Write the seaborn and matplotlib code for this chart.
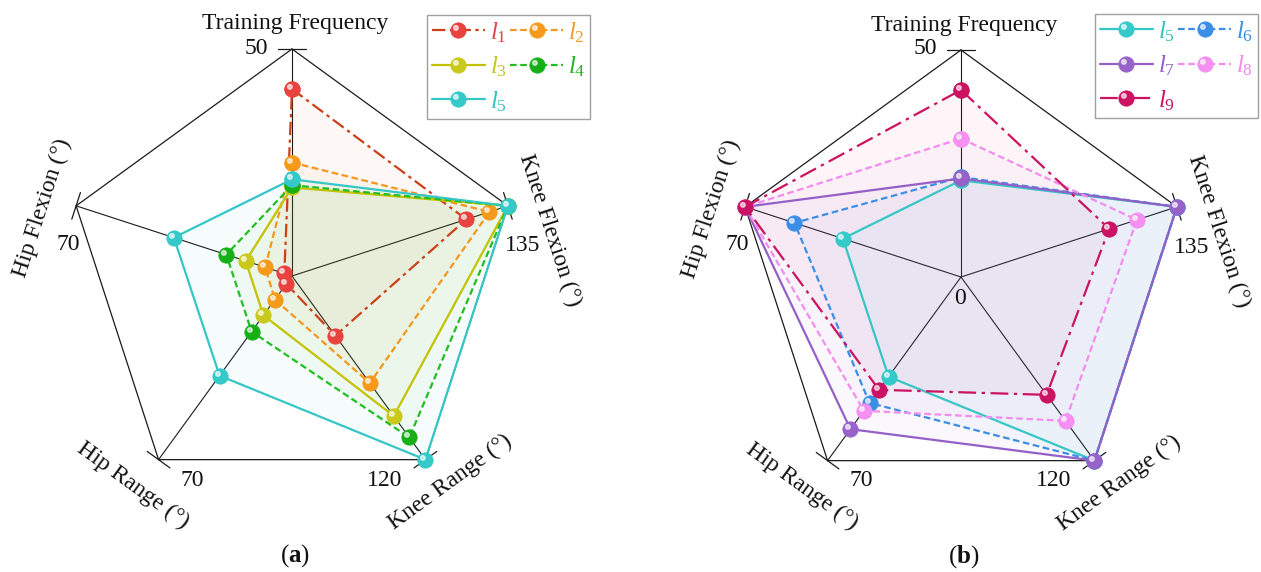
import numpy as np
import matplotlib
matplotlib.use("Agg")
import matplotlib.pyplot as plt
from matplotlib.path import Path
from matplotlib.markers import MarkerStyle
from matplotlib.lines import Line2D
from matplotlib.legend_handler import HandlerTuple
import seaborn as sns

sns.set_theme(style="white")
plt.rcParams["font.family"] = ["Liberation Serif", "DejaVu Serif"]
plt.rcParams["mathtext.fontset"] = "custom"
plt.rcParams["mathtext.rm"] = "Liberation Serif"
plt.rcParams["mathtext.it"] = "Liberation Serif:italic"
plt.rcParams["mathtext.bf"] = "Liberation Serif:bold"

# Radar axes, clockwise from the top, and the value at each outer vertex
axis_names = ["Training Frequency", "Knee Flexion (°)", "Knee Range (°)",
              "Hip Range (°)", "Hip Flexion (°)"]
axis_max = [50, 135, 120, 70, 70]
max_labels = ["50", "135", "120", "70", "70"]

# Series values in the axis order above
l1 = [41.2, 109, 39, 3, 2.5]
l2 = [25, 123.5, 70, 9, 8.7]
l3 = [19.5, 135, 91.5, 15, 15]
l4 = [20, 135, 105.5, 21.2, 21.3]
l5 = [21.3, 135, 120, 38, 38.3]
l6 = [22, 135, 120, 48, 54]
l7 = [21.7, 135, 120, 58, 70]
l8 = [30.5, 110, 94, 51, 70]
l9 = [41.2, 92.7, 77, 43, 70]

series_names = ["l1", "l2", "l3", "l4", "l5", "l6", "l7", "l8", "l9"]
series_values = [l1, l2, l3, l4, l5, l6, l7, l8, l9]
panel_a = ["l1", "l2", "l3", "l4", "l5"]
panel_b = ["l5", "l6", "l7", "l8", "l9"]

DASHDOT = (0, (6, 2, 1.5, 2))
LONGDASHDOT = (0, (8, 2.5, 1.5, 2.5))
DASHED = (0, (3, 1.6))
styles = {
    "l1": dict(line="#cc4018", face="#e8433f", text="#e04848", ls=DASHDOT),
    "l2": dict(line="#f5961e", face="#f69a1c", text="#f29a2a", ls=DASHED),
    "l3": dict(line="#c2c200", face="#c9c91c", text="#c4c420", ls="-"),
    "l4": dict(line="#1fbf1f", face="#16b016", text="#22b422", ls=DASHED),
    "l5": dict(line="#35c6c6", face="#35c9c9", text="#35c0c0", ls="-"),
    "l6": dict(line="#3a8ee6", face="#3a8ee6", text="#3a8ee6", ls=DASHED),
    "l7": dict(line="#9460c8", face="#9763c9", text="#9460c8", ls="-"),
    "l8": dict(line="#f38cf0", face="#f58ff2", text="#f08cea", ls=DASHED),
    "l9": dict(line="#cc1260", face="#cc1262", text="#cc1262", ls=LONGDASHDOT),
}

W, H = 1261, 572
R = 227.0  # radar radius in pixels
fig = plt.figure(figsize=(W / 100, H / 100), dpi=100)

# Small glossy highlight drawn over each ball marker
_circ = Path.circle(center=(-0.17, 0.17), radius=0.15)
_verts = np.vstack([[[-0.5, -0.5], [0.5, 0.5]], _circ.vertices])
_codes = np.concatenate([[Path.MOVETO, Path.MOVETO], _circ.codes])
shine = MarkerStyle(Path(_verts, _codes))

theta = np.deg2rad(np.arange(5) * 72.0)
ux, uy = np.sin(theta), np.cos(theta)
MS = 11


def make_axes(left_px, right_px, cx, cy):
    ax = fig.add_axes([left_px / W, 0, (right_px - left_px) / W, 1])
    ax.set_xlim(-(cx - left_px) / R, (right_px - cx) / R)
    ax.set_ylim(-(H - cy) / R, cy / R)
    ax.axis("off")
    return ax


def label(cx, cy, dx, dy, s, size=17, rot=0, **kw):
    fig.text((cx + dx) / W, 1 - (cy + dy) / H, s, fontsize=size, rotation=rot,
             ha="center", va="center", rotation_mode="anchor", color="#111111", **kw)


def draw_panel(ax, names, cx, cy, tag, show_zero, legend_box):
    # outer pentagon, spokes and vertex ticks
    ax.plot(np.r_[ux, ux[0]], np.r_[uy, uy[0]], color="#1a1a1a", lw=0.9, zorder=1)
    tick = 14 / R
    for x, y in zip(ux, uy):
        ax.plot([0, x], [0, y], color="#1a1a1a", lw=0.8, zorder=1)
        px, py = y, -x
        ax.plot([x - tick * px, x + tick * px], [y - tick * py, y + tick * py],
                color="#1a1a1a", lw=0.9, zorder=1)

    handles = {}
    for k, name in enumerate(names):
        vals = np.array(series_values[series_names.index(name)], float)
        frac = vals / np.array(axis_max, float)
        xs = np.r_[frac * ux, frac[0] * ux[0]]
        ys = np.r_[frac * uy, frac[0] * uy[0]]
        st = styles[name]
        ax.fill(xs, ys, color=st["line"], alpha=0.04, lw=0, zorder=2)
        sns.lineplot(x=xs, y=ys, sort=False, estimator=None, errorbar=None, ax=ax,
                     color=st["line"], linewidth=1.6, linestyle=st["ls"],
                     marker="o", markersize=MS, markerfacecolor=st["face"],
                     markeredgecolor=st["face"], markeredgewidth=0.6,
                     legend=False, zorder=3 + k)
        ax.plot(xs[:-1], ys[:-1], linestyle="none", marker=shine, markersize=MS,
                color="white", alpha=0.65, zorder=3 + k)
        main = Line2D([], [], color=st["line"], lw=1.6, linestyle=st["ls"], marker="o",
                      markersize=MS, markerfacecolor=st["face"],
                      markeredgecolor=st["face"], markeredgewidth=0.6)
        hl = Line2D([], [], linestyle="none", marker=shine, markersize=MS,
                    color="white", alpha=0.65)
        handles[name] = (main, hl)

    # column-wise order gives rows: (1,2), (3,4), (5)
    order = [names[0], names[2], names[4], names[1], names[3]]
    leg = fig.legend([handles[n] for n in order],
                     [rf"$l_{{{n[1]}}}$" for n in order],
                     handler_map={tuple: HandlerTuple(ndivide=1, pad=0)},
                     ncol=2, loc="upper left",
                     bbox_to_anchor=(legend_box[0] / W, 1 - legend_box[1] / H),
                     bbox_transform=fig.transFigure, borderaxespad=0,
                     fontsize=18, handlelength=2.1, handletextpad=0.2,
                     columnspacing=0.15, labelspacing=0.4, borderpad=0.2,
                     frameon=True, fancybox=False, framealpha=1, edgecolor="#a0a0a0")
    leg.get_frame().set_linewidth(1.0)
    for txt, n in zip(leg.get_texts(), order):
        txt.set_color(styles[n]["text"])

    # axis names and vertex values
    label(cx, cy, 3, -252, axis_names[0])
    label(cx, cy, 258, -46, axis_names[1], rot=-72)
    label(cx, cy, 158, 206, axis_names[2], rot=36)
    label(cx, cy, -159, 209, axis_names[3], rot=-36)
    label(cx, cy, -250, -68, axis_names[4], rot=72)
    label(cx, cy, -36, -228, max_labels[0])
    label(cx, cy, 231, -30, max_labels[1])
    label(cx, cy, 93, 204, max_labels[2])
    label(cx, cy, -100, 204, max_labels[3])
    label(cx, cy, -224, -32, max_labels[4])
    if show_zero:
        label(cx, cy, -1, 21, "0")
    label(cx, cy, 3, 280, rf"(${{\mathbf{{{tag}}}}}$)", size=18)


ax_a = make_axes(0, 630.5, 292, 276)
draw_panel(ax_a, panel_a, 292, 276, "a", False, (427, 15))
ax_b = make_axes(630.5, W, 961, 277)
draw_panel(ax_b, panel_b, 961, 277, "b", True, (1095, 14))

fig.savefig("out.png", dpi=100, facecolor="white")
